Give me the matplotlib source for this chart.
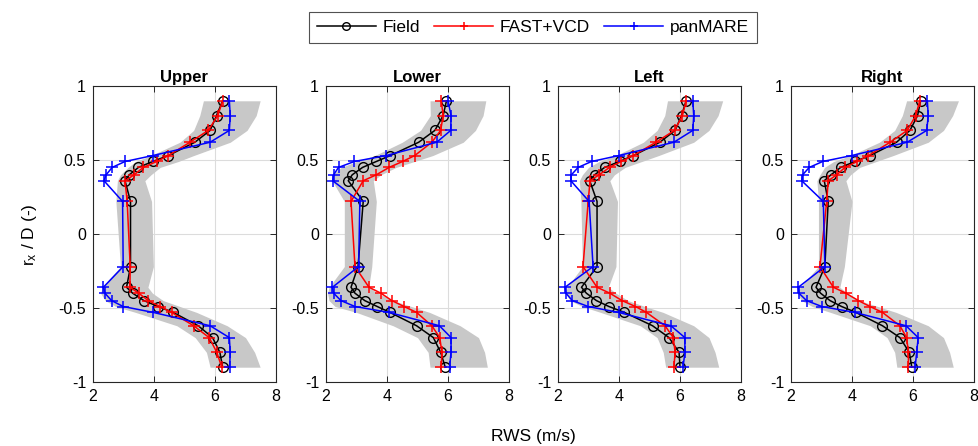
import numpy as np
import matplotlib
matplotlib.use("Agg")
import matplotlib.pyplot as plt

plt.rcParams['font.family'] = ['Liberation Sans', 'DejaVu Sans']
plt.rcParams['mathtext.fontset'] = 'custom'
plt.rcParams['mathtext.rm'] = 'Liberation Sans'
plt.rcParams['mathtext.it'] = 'Liberation Sans:italic'
plt.rcParams['axes.unicode_minus'] = False

# radial positions r_x / D (bottom -> top)
r_levels = [-0.9, -0.8, -0.7, -0.62, -0.53, -0.49, -0.45, -0.40, -0.36, -0.22,
            0.22, 0.36, 0.40, 0.45, 0.49, 0.53, 0.62, 0.70, 0.80, 0.90]

panels = ["Upper", "Lower", "Left", "Right"]
series_names = ["Field", "FAST+VCD", "panMARE"]

# RWS (m/s) per panel
field_upper = [6.25, 6.16, 5.92, 5.45, 4.63, 4.14, 3.67, 3.30, 3.10, 3.23,
               3.23, 3.05, 3.19, 3.49, 3.96, 4.47, 5.34, 5.84, 6.05, 6.25]
fast_upper = [6.22, 6.06, 5.81, 5.30, 4.58, 4.20, 3.81, 3.50, 3.21, 3.22,
              3.12, 3.05, 3.35, 3.65, 4.09, 4.47, 5.18, 5.78, 6.09, 6.25]
pan_upper = [6.48, 6.50, 6.47, 5.84, 3.98, 2.99, 2.61, 2.39, 2.34, 2.99,
             2.97, 2.36, 2.43, 2.63, 3.05, 3.96, 5.84, 6.47, 6.50, 6.47]

field_lower = [5.91, 5.76, 5.52, 4.97, 4.10, 3.68, 3.27, 2.95, 2.82, 3.05,
               3.22, 2.73, 2.86, 3.20, 3.65, 4.11, 5.04, 5.57, 5.84, 5.95]
fast_lower = [5.78, 5.80, 5.73, 5.47, 4.97, 4.56, 4.16, 3.80, 3.41, 2.95,
              2.82, 3.22, 3.65, 4.07, 4.51, 4.91, 5.47, 5.76, 5.84, 5.78]
pan_lower = [6.05, 6.10, 6.10, 5.72, 4.07, 2.95, 2.49, 2.25, 2.21, 3.07,
             3.11, 2.22, 2.25, 2.41, 2.93, 3.97, 5.63, 6.09, 6.10, 6.00]

field_left = [6.00, 5.97, 5.64, 5.10, 4.18, 3.67, 3.26, 2.93, 2.77, 3.28,
              3.28, 3.04, 3.20, 3.53, 4.02, 4.47, 5.34, 5.84, 6.05, 6.20]
fast_left = [5.80, 5.84, 5.78, 5.51, 4.90, 4.54, 4.10, 3.70, 3.28, 2.82,
             2.99, 3.05, 3.35, 3.69, 4.07, 4.47, 5.21, 5.82, 6.08, 6.20]
pan_left = [6.10, 6.16, 6.16, 5.70, 3.99, 2.99, 2.47, 2.26, 2.23, 3.15,
            3.02, 2.42, 2.44, 2.66, 3.10, 3.99, 5.80, 6.42, 6.45, 6.42]

field_right = [5.96, 5.88, 5.57, 5.00, 4.13, 3.66, 3.28, 2.97, 2.82, 3.11,
               3.22, 3.09, 3.31, 3.63, 4.10, 4.59, 5.46, 5.90, 6.15, 6.25]
fast_right = [5.85, 5.85, 5.79, 5.57, 5.00, 4.59, 4.21, 3.80, 3.39, 2.95,
              3.17, 3.22, 3.50, 3.77, 4.17, 4.54, 5.25, 5.81, 6.09, 6.22]
pan_right = [6.07, 6.12, 6.17, 5.77, 4.10, 3.01, 2.51, 2.26, 2.24, 3.11,
             3.06, 2.35, 2.38, 2.60, 3.04, 3.99, 5.81, 6.45, 6.50, 6.47]

# field spread band (min / max)
band_lo_upper = [5.84, 5.72, 5.35, 4.75, 3.40, 2.75, 2.40, 2.25, 2.30, 2.90,
                 2.75, 2.80, 2.90, 3.15, 3.40, 3.90, 4.85, 5.30, 5.50, 5.62]
band_hi_upper = [7.48, 7.30, 7.00, 6.40, 5.40, 4.85, 4.30, 3.95, 3.80, 3.98,
                 3.92, 3.70, 3.90, 4.20, 4.80, 5.30, 6.50, 7.05, 7.35, 7.48]
band_lo_lower = [5.41, 5.35, 5.00, 4.20, 3.00, 2.30, 2.10, 2.05, 2.10, 2.60,
                 2.60, 2.20, 2.20, 2.50, 3.00, 3.60, 4.50, 5.10, 5.42, 5.41]
band_hi_lower = [7.29, 7.20, 7.00, 6.40, 5.40, 4.80, 4.20, 3.70, 3.40, 3.50,
                 3.65, 3.55, 3.80, 4.30, 4.90, 5.50, 6.50, 6.90, 7.15, 7.24]
band_lo_left = [5.53, 5.45, 5.25, 4.70, 3.40, 2.80, 2.40, 2.25, 2.30, 2.80,
                2.75, 2.70, 2.80, 3.00, 3.35, 3.90, 4.80, 5.25, 5.50, 5.59]
band_hi_left = [7.27, 7.15, 6.95, 6.45, 5.45, 4.85, 4.30, 3.90, 3.65, 3.90,
                3.95, 3.70, 3.85, 4.20, 4.75, 5.30, 6.45, 6.95, 7.25, 7.40]
band_lo_right = [5.47, 5.40, 5.15, 4.60, 3.30, 2.70, 2.35, 2.20, 2.30, 2.90,
                 2.90, 2.85, 2.95, 3.10, 3.40, 3.95, 4.90, 5.40, 5.65, 5.79]
band_hi_right = [7.32, 7.20, 7.00, 6.50, 5.45, 4.85, 4.25, 3.85, 3.60, 3.75,
                 4.00, 3.80, 3.95, 4.25, 4.80, 5.35, 6.50, 7.00, 7.30, 7.49]

x_ticks = [2, 4, 6, 8]
y_ticks = [-1, -0.5, 0, 0.5, 1]
y_tick_labels = ["-1", "-0.5", "0", "0.5", "1"]

field_data = [field_upper, field_lower, field_left, field_right]
fast_data = [fast_upper, fast_lower, fast_left, fast_right]
pan_data = [pan_upper, pan_lower, pan_left, pan_right]
band_lo = [band_lo_upper, band_lo_lower, band_lo_left, band_lo_right]
band_hi = [band_hi_upper, band_hi_lower, band_hi_left, band_hi_right]

W, H = 979, 446
fig = plt.figure(figsize=(W / 100, H / 100), dpi=100)

lefts_px = [93, 326, 558, 791]
ax_w = 183
ax_top, ax_bot = 86, 382
handles = None
for i, name in enumerate(panels):
    ax = fig.add_axes([lefts_px[i] / W, (H - ax_bot) / H, ax_w / W, (ax_bot - ax_top) / H])
    ax.fill_betweenx(r_levels, band_lo[i], band_hi[i], color='#c8c8c8', lw=0, zorder=1)
    h1, = ax.plot(field_data[i], r_levels, '-o', color='black', mfc='none', ms=7,
                  mew=1.0, lw=1.1, zorder=3, label=series_names[0])
    h2, = ax.plot(fast_data[i], r_levels, '-+', color='red', ms=8.5, mew=1.1, lw=1.1,
                  zorder=4, label=series_names[1])
    h3, = ax.plot(pan_data[i], r_levels, '-+', color='blue', ms=8.5, mew=1.1, lw=1.1,
                  zorder=5, label=series_names[2])
    handles = [h1, h2, h3]
    ax.set_xlim(2, 8)
    ax.set_ylim(-1, 1)
    ax.set_xticks(x_ticks)
    ax.set_xticklabels([str(t) for t in x_ticks])
    ax.set_yticks(y_ticks)
    ax.set_yticklabels(y_tick_labels)
    ax.grid(True, color='#dcdcdc', lw=0.8, zorder=0)
    ax.set_axisbelow(True)
    ax.tick_params(direction='in', length=4, width=0.7, top=True, right=True,
                   labelsize=11.5, colors='#262626', labelcolor='black', pad=5)
    for s in ax.spines.values():
        s.set_color('#262626')
        s.set_linewidth(0.8)
    ax.set_title(name, fontsize=12, fontweight='bold', pad=3)

fig.text(30 / W, 1 - 235 / H, r'r$_{\rm x}$ / D (-)', rotation=90, ha='center', va='center', fontsize=12.5)
fig.text(533 / W, 1 - 436 / H, 'RWS (m/s)', ha='center', va='center', fontsize=12.5)

leg = fig.legend(handles, series_names, loc='upper center', bbox_to_anchor=(533 / W, 1 - 12 / H),
                 ncol=3, frameon=True, fancybox=False, edgecolor='#262626', fontsize=12.5,
                 handlelength=3.4, columnspacing=0.8, handletextpad=0.4, borderpad=0.45,
                 borderaxespad=0)
leg.get_frame().set_linewidth(0.8)
for lh in leg.legend_handles:
    lh.set_markersize(5.5)

fig.savefig('out.png', dpi=100)
